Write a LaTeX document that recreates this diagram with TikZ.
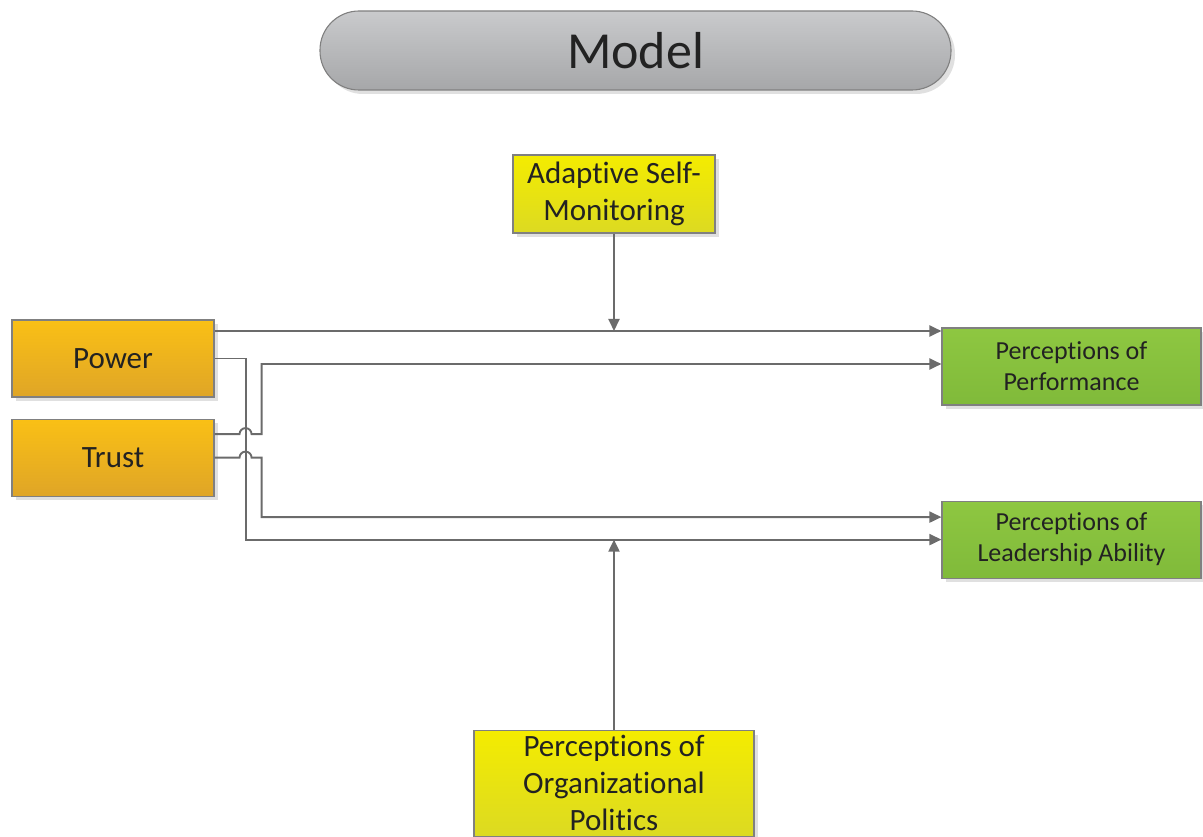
\documentclass[tikz,border=0pt]{standalone}
\usepackage{fontspec}
\setmainfont{Carlito}[Ligatures={NoCommon,NoRare},Contextuals={NoAlternate}]
\usetikzlibrary{positioning,arrows.meta,shadows}

\newcommand\brk{\kern0pt}

\definecolor{linegray}{HTML}{6B6B6B}
\definecolor{txt}{HTML}{222222}
\definecolor{orangetop}{HTML}{FAC015}
\definecolor{orangebot}{HTML}{DFA527}
\definecolor{yellowtop}{HTML}{F4EC00}
\definecolor{yellowbot}{HTML}{DCDA22}
\definecolor{greentop}{HTML}{8EC741}
\definecolor{greenbot}{HTML}{80BA3A}
\definecolor{graytop}{HTML}{C9CACC}
\definecolor{graybot}{HTML}{A6A7A9}

\begin{document}
\begin{tikzpicture}[x=1pt,y=-1pt,node distance=21pt,
                    box/.style={rectangle,draw=black!50,line width=1.1pt,text=txt,
                      align=center,inner sep=0pt,
                      drop shadow={shadow xshift=4pt,shadow yshift=-4pt,fill=black!12,opacity=1}},
                    factor node/.style={box,top color=orangetop,bottom color=orangebot,
                      minimum width=202pt,minimum height=77pt,font=\fontsize{31}{37}\selectfont},
                    moderator node/.style={box,top color=yellowtop,bottom color=yellowbot,
                      font=\fontsize{31}{37}\selectfont},
                    outcome node/.style={box,top color=greentop,bottom color=greenbot,
                      minimum width=259pt,minimum height=77pt,font=\fontsize{26}{31}\selectfont},
                    link/.style={draw=linegray,line width=1.9pt,
                      -{Triangle[length=12pt,width=11pt]}}]

  \useasboundingbox (0,0) rectangle (1203,837);

  \node[box,rounded corners=39pt,top color=graytop,bottom color=graybot,
        minimum width=631pt,minimum height=79pt,
        font=\fontsize{52}{60}\selectfont] (model) at (635.5,50.5) {Model};

  \node[moderator node,minimum width=202pt,minimum height=78pt] (asm) at (614,194)
    {Adapt\brk ive Self-\\Monitoring};

  \node[factor node] (power) at (113,358.5) {Power};
  \node[factor node] (trust) [below=of power] {Trust};

  \node[outcome node] (perf) at (1071.5,366.5) {Percept\brk ions of\\Performance};
  \node[outcome node] (lead) [below=95pt of perf] {Percept\brk ions of\\Leadership Ability};

  \node[moderator node,anchor=north,minimum width=280pt,inner xsep=3pt,inner ysep=5pt]
    (pop) at (614,730) {Percept\brk ions of\\Organizat\brk ional\\Polit\brk ics};

  % power -> performance, moderated from above
  \draw[link] ([yshift=27.5pt]power.east) coordinate (pw) -- (pw -| perf.west);
  \draw[link] (asm.south) -- (asm.south |- pw);

  % power -> leadership
  \draw[link] (power.east) -- ++(31,0) |- (lead.west);

  % trust -> performance and leadership, jumping over the power line
  \draw[link] ([yshift=23.5pt]trust.east) -- ++(25,0)
    arc[start angle=180,end angle=0,radius=6pt] -- ++(10,0) |- ([yshift=2.5pt]perf.west);
  \draw[link] (trust.east) -- ++(25,0)
    arc[start angle=180,end angle=0,radius=6pt] -- ++(10,0) |- ([yshift=22.5pt]lead.west);

  % politics moderates from below
  \draw[link] (pop.north) -- (pop.north |- lead.west);
\end{tikzpicture}
\end{document}
